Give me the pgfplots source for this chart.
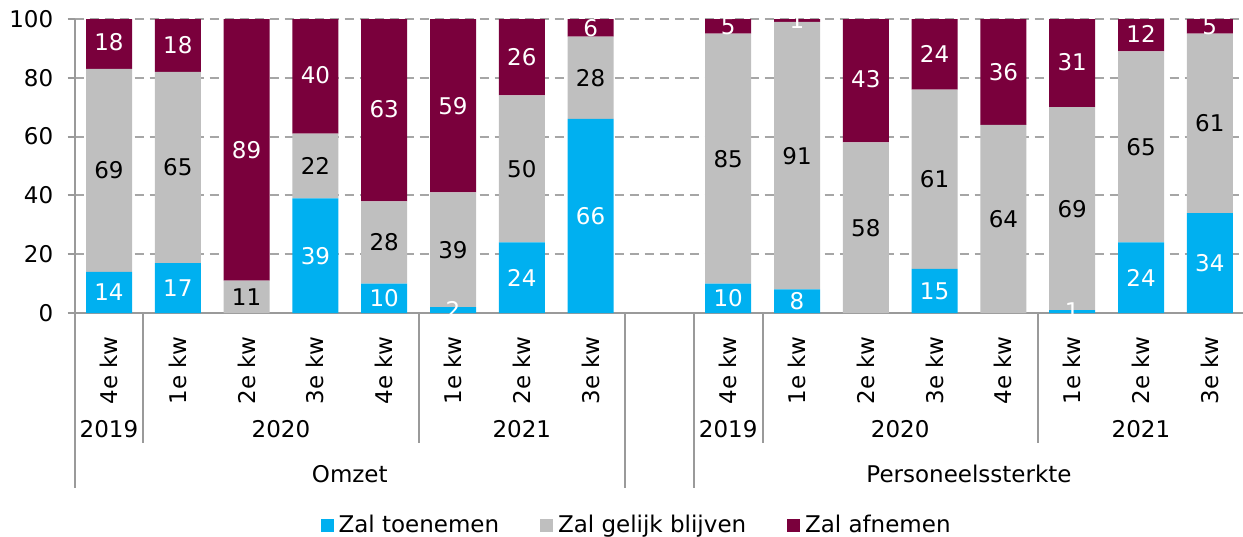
\documentclass[border=0pt]{standalone}
\usepackage{fontspec}
\setmainfont{DejaVu Sans}
\usepackage{pgfplots}
\usepackage{pgfplotstable}
\pgfplotsset{compat=1.18}
\usetikzlibrary{calc}

\definecolor{upblue}{HTML}{00B0F0}
\definecolor{samegray}{HTML}{BFBFBF}
\definecolor{downred}{HTML}{7A003C}
\definecolor{axisgray}{HTML}{9A9A9A}
\definecolor{gridgray}{HTML}{A6A6A6}

% Share of firms expecting an increase / no change / decrease (%)
% x: 0-7 Omzet (4e kw 2019 .. 3e kw 2021), 9-16 Personeelssterkte
\pgfplotstableread{
x   up  same down
0   14  69   18
1   17  65   18
2   0   11   89
3   39  22   40
4   10  28   63
5   2   39   59
6   24  50   26
7   66  28   6
9   10  85   5
10  8   91   1
11  0   58   43
12  15  61   24
13  0   64   36
14  1   69   31
15  24  65   12
16  34  61   5
}\quarters

\def\zerostr{0}
\pgfplotsset{
  frame/.style={
    at={(0,0)}, anchor=south west,
    x=34.4bp, y=1.47bp,
    xmin=-0.5, xmax=16.5, ymin=0, ymax=100,
    /pgf/number format/assume math mode=true,
  },
  % value printed in the middle of a segment; empty segments get no label
  segment label/.style={
    only marks, mark=none,
    point meta=explicit symbolic,
    nodes near coords={\edef\segval{\pgfplotspointmeta}%
      \ifx\segval\zerostr\else\segval\fi},
    every node near coord/.append style={anchor=center, inner sep=0pt, text=#1},
  },
}

\begin{document}
\fontsize{11.5bp}{13.8bp}\selectfont
\begin{tikzpicture}
\begin{axis}[frame,
  ybar stacked, bar width=23bp,
  axis x line*=bottom, axis y line*=left,
  axis line style={draw=axisgray, line width=1bp, -},
  ytick={0,20,40,60,80,100},
  ymajorgrids,
  grid style={gridgray, line width=1bp, dash pattern=on 4.5bp off 3bp},
  tick align=outside, major tick length=3.5bp,
  ytick style={axisgray, line width=1bp},
  yticklabel style={inner sep=0pt},
  yticklabel shift=7bp,
  xtick={0,1,2,3,4,5,6,7,9,10,11,12,13,14,15,16},
  xticklabels={4e kw,1e kw,2e kw,3e kw,4e kw,1e kw,2e kw,3e kw,
               4e kw,1e kw,2e kw,3e kw,4e kw,1e kw,2e kw,3e kw},
  xtick style={draw=none},
  xticklabel style={rotate=90, anchor=east, inner sep=0pt},
  xticklabel shift=8bp,
  legend style={draw=none, fill=none, legend columns=-1,
    at={(0.481,-0.722)}, anchor=center,
    /tikz/every even column/.append style={column sep=19bp},
    nodes={inner sep=1.5bp}},
  every axis plot post/.append style={
    legend image code/.code={\fill[##1] (0bp,-3.2bp) rectangle (6.4bp,3.2bp);}},
]
  \addplot[fill=upblue, draw=none]   table[x=x, y=up]   {\quarters};
  \addplot[fill=samegray, draw=none] table[x=x, y=same] {\quarters};
  \addplot[fill=downred, draw=none]  table[x=x, y=down] {\quarters};
  \legend{\hspace{1bp}Zal toenemen, \hspace{1bp}Zal gelijk blijven, \hspace{1bp}Zal afnemen}
  \coordinate (O) at (axis cs:-0.5,0);
\end{axis}

% value labels at the middle of each segment
\begin{axis}[frame, hide axis]
  \addplot[segment label=white]
    table[x=x, y expr=\thisrow{up}/2, meta=up] {\quarters};
  \addplot[segment label=black]
    table[x=x, y expr=\thisrow{up}+\thisrow{same}/2, meta=same] {\quarters};
  \addplot[segment label=white]
    table[x=x, y expr=\thisrow{up}+\thisrow{same}+\thisrow{down}/2, meta=down] {\quarters};
\end{axis}

% category grouping below the axis (units: 0.5bp, y downwards)
\begin{scope}[shift={(O)}, x=0.5bp, y=-0.5bp]
  \draw[axisgray, line width=1bp]
    (0,0) -- (0,175) (550.4,0) -- (550.4,175) (619.2,0) -- (619.2,175)
    (68.8,0) -- (68.8,130) (344,0) -- (344,130)
    (688,0) -- (688,130) (963.2,0) -- (963.2,130);
  \foreach \cx/\yr in {34.4/2019, 206.4/2020, 447.2/2021,
                       653.6/2019, 825.6/2020, 1066.4/2021}
    \node[anchor=base, inner sep=0pt] at (\cx,124.7) {\yr};
  \node[anchor=base, inner sep=0pt] at (275.2,169.7) {Omzet};
  \node[anchor=base, inner sep=0pt] at (894.4,169.7) {Personeelssterkte};
\end{scope}

\pgfresetboundingbox
\path[use as bounding box] ($(O)+(-37.3bp,156.5bp)$) rectangle ($(O)+(584.2bp,-112bp)$);
\end{tikzpicture}
\end{document}
